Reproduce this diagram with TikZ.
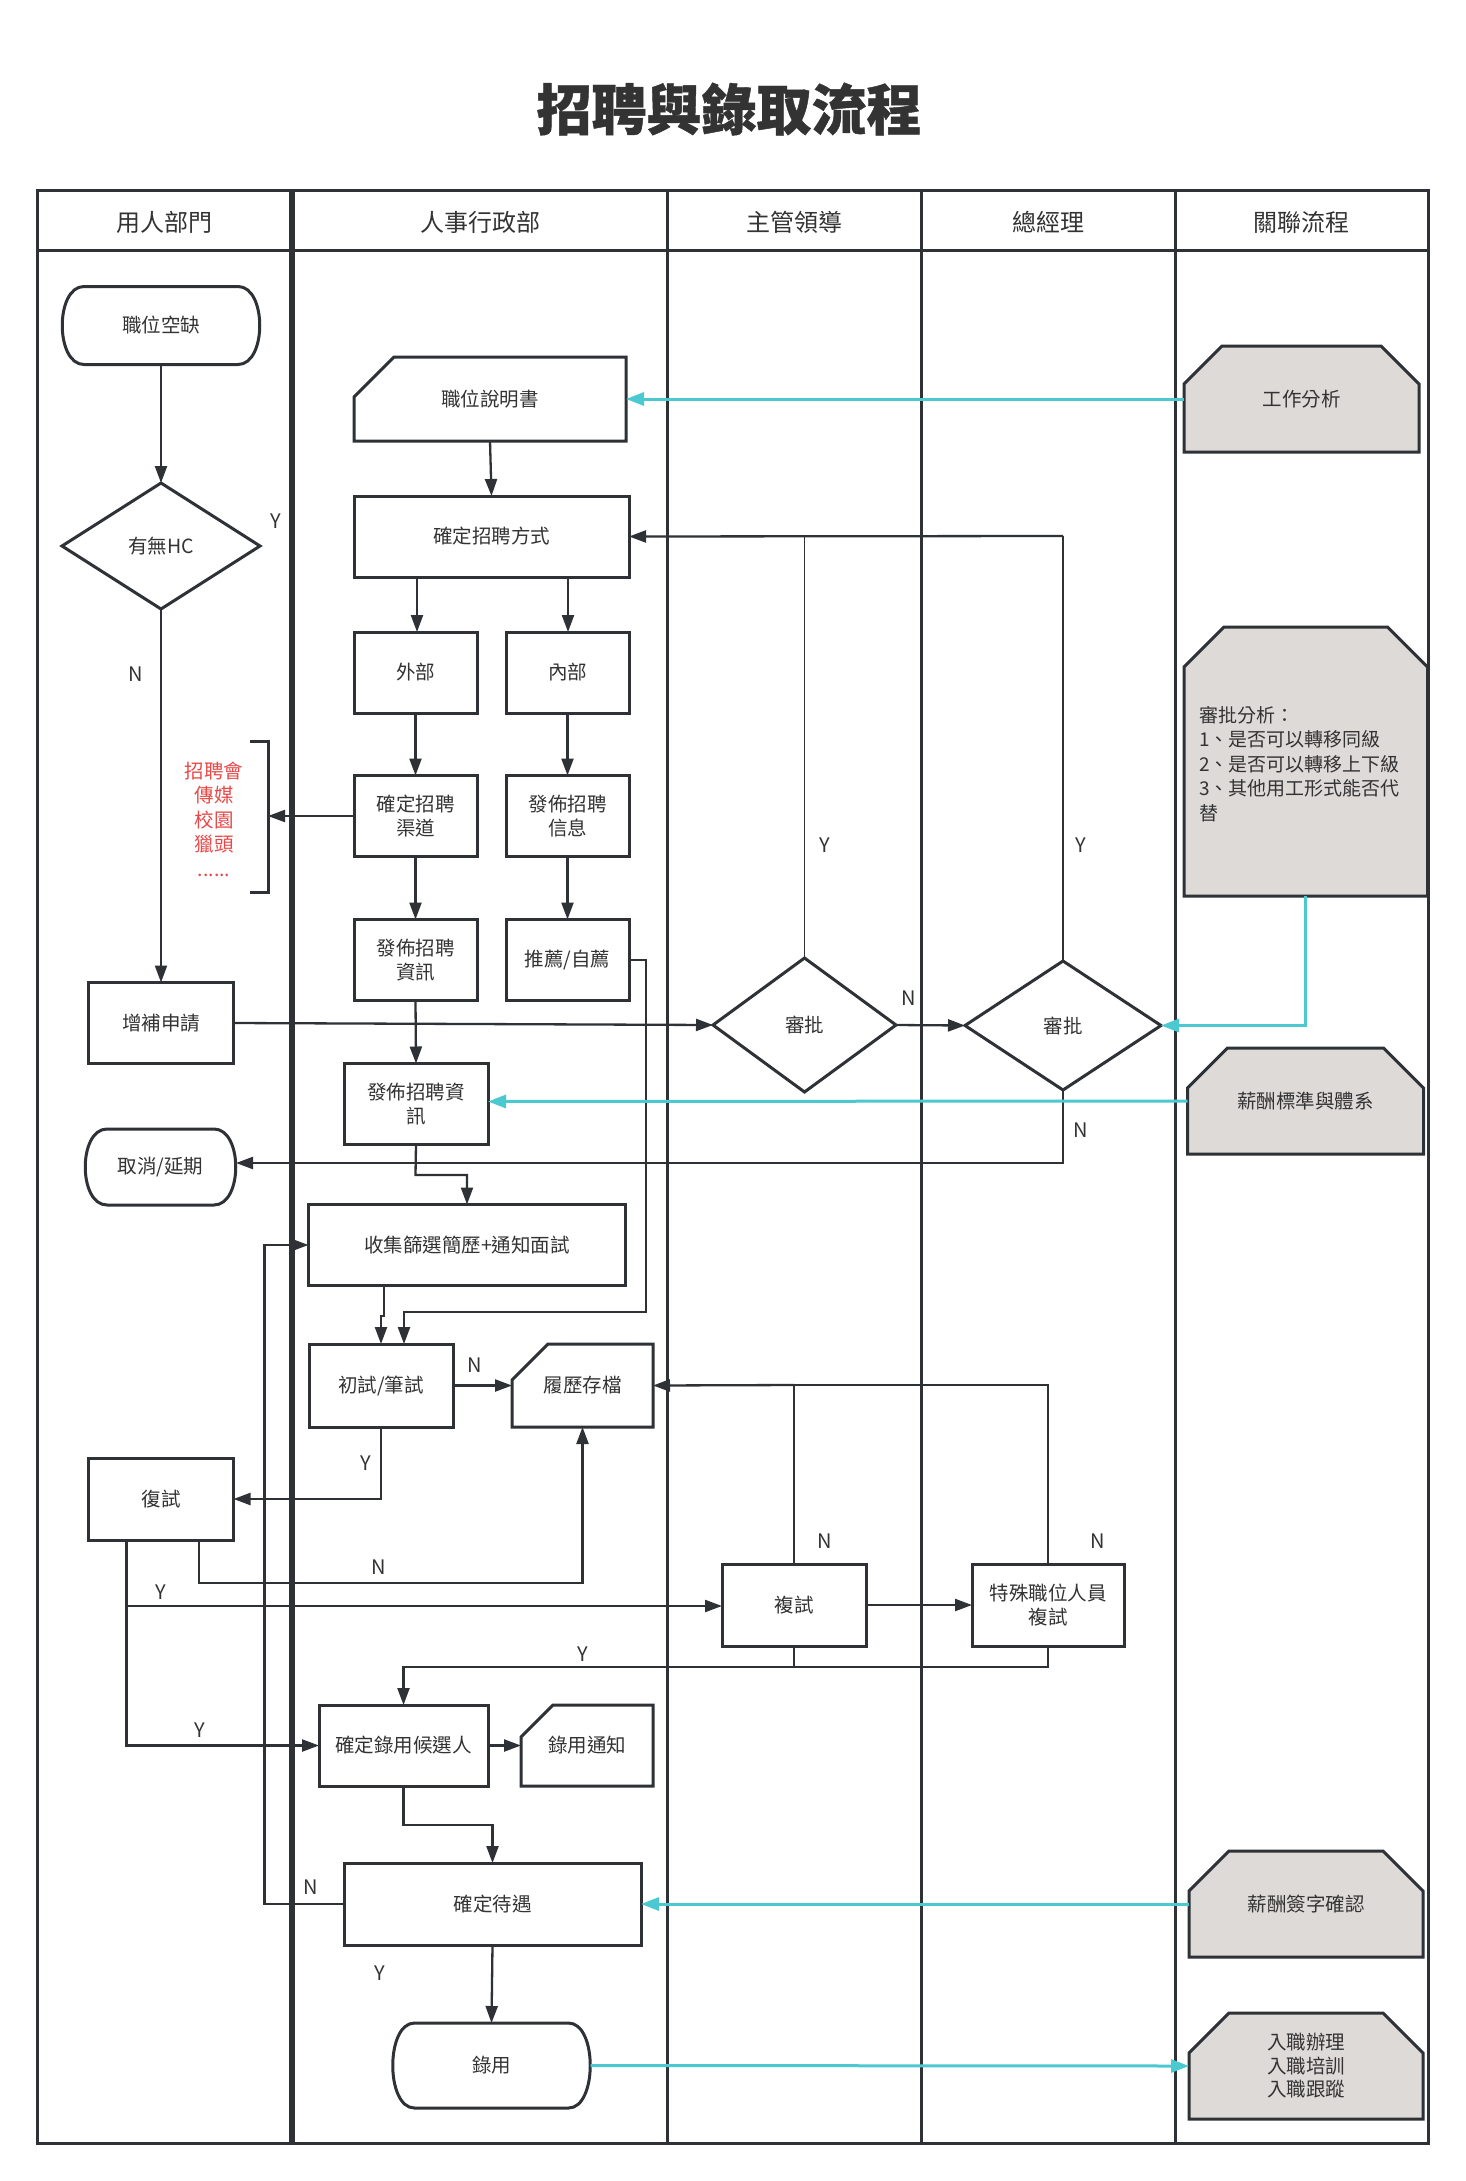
\documentclass[tikz,border=0pt]{standalone}
\usepackage{fontspec}
\setmainfont{Noto Sans CJK TC}
\usetikzlibrary{arrows.meta,calc}
\definecolor{ln}{HTML}{2E3236}
\definecolor{tx}{HTML}{333333}
\definecolor{cy}{HTML}{4CC9D0}
\definecolor{gf}{HTML}{DEDAD8}
\definecolor{rd}{HTML}{E84848}
\tikzset{
 boxline/.style={draw=ln, line width=3pt, line join=miter},
 txt/.style={inner sep=1pt, outer sep=0pt, align=center, text=tx, font=\fontsize{19.5}{23.5}\selectfont},
 pbox/.style={txt, draw=ln, line width=3pt, fill=white},
 conn/.style={draw=ln, line width=2.3pt, -{Triangle[length=17pt,width=12pt]}},
 plain/.style={draw=ln, line width=2.3pt},
 thinl/.style={draw=ln, line width=1.8pt},
 cyconn/.style={draw=cy, line width=3pt, -{Triangle[length=18pt,width=13pt]}},
 cyline/.style={draw=cy, line width=3pt},
 lbl/.style={text=tx, font=\fontsize{20}{24}\selectfont, inner sep=0pt},
 hdr/.style={text=tx, font=\fontsize{24}{28}\selectfont, inner sep=0pt},
 tbl/.style={draw=ln, line width=3pt},
}
% rectangle box: name cx cy w h text
\newcommand{\rbox}[6]{\node[pbox, minimum width=#4pt, minimum height=#5pt] (#1) at (#2,#3) {#6};}
% terminal: name cx cy w h text
\newcommand{\termshape}[6]{%
 \pgfmathsetmacro\tXa{#2-#4/2}\pgfmathsetmacro\tXb{#2+#4/2}%
 \pgfmathsetmacro\tYa{#3-#5/2}\pgfmathsetmacro\tYb{#3+#5/2}%
 \draw[boxline, fill=white] (\tXa+22,\tYa) -- (\tXb-22,\tYa) .. controls (\tXb+7,\tYa) and (\tXb+7,\tYb) .. (\tXb-22,\tYb) -- (\tXa+22,\tYb) .. controls (\tXa-7,\tYb) and (\tXa-7,\tYa) .. (\tXa+22,\tYa) -- cycle;
 \node[txt, minimum width=#4pt, minimum height=#5pt] (#1) at (#2,#3) {#6};}
% card (cut top-left): name cx cy w h cut text
\newcommand{\cardshape}[7]{%
 \pgfmathsetmacro\tXa{#2-#4/2}\pgfmathsetmacro\tXb{#2+#4/2}%
 \pgfmathsetmacro\tYa{#3-#5/2}\pgfmathsetmacro\tYb{#3+#5/2}%
 \draw[boxline, fill=white] (\tXa,\tYa+#6) -- (\tXa+#6,\tYa) -- (\tXb,\tYa) -- (\tXb,\tYb) -- (\tXa,\tYb) -- cycle;
 \node[txt, minimum width=#4pt, minimum height=#5pt] (#1) at (#2,#3) {#7};}
% gray box (both top corners cut): name cx cy w h cut text
\newcommand{\grayshape}[7]{%
 \pgfmathsetmacro\tXa{#2-#4/2}\pgfmathsetmacro\tXb{#2+#4/2}%
 \pgfmathsetmacro\tYa{#3-#5/2}\pgfmathsetmacro\tYb{#3+#5/2}%
 \draw[boxline, fill=gf] (\tXa,\tYa+#6) -- (\tXa+#6,\tYa) -- (\tXb-#6,\tYa) -- (\tXb,\tYa+#6) -- (\tXb,\tYb) -- (\tXa,\tYb) -- cycle;
 \node[txt, minimum width=#4pt, minimum height=#5pt] (#1) at (#2,#3) {#7};}
% diamond: name cx cy w h text
\newcommand{\diamshape}[6]{%
 \draw[boxline, fill=white] (#2,#3-#5/2) -- (#2+#4/2,#3) -- (#2,#3+#5/2) -- (#2-#4/2,#3) -- cycle;
 \node[txt, minimum width=#4pt, minimum height=#5pt] (#1) at (#2,#3) {#6};}
\begin{document}
\begin{tikzpicture}[x=1pt,y=-1pt]
\useasboundingbox[fill=white] (0,0) rectangle (1465,2181);
% title
\node[text=tx, font=\fontsize{55}{60}\selectfont\bfseries\addfontfeature{FakeBold=0.8}, inner sep=0pt] (title) at (729,109) {招聘與錄取流程};
% table
\draw[tbl] (37.5,190) rectangle (1428,2143);
\draw[tbl] (37.5,250) -- (1428,250);
\draw[draw=ln, line width=5.5pt] (292,190) -- (292,2143);
\draw[tbl] (667.5,190) -- (667.5,2143);
\draw[tbl] (921,190) -- (921,2143);
\draw[tbl] (1175,190) -- (1175,2143);
\node[hdr] (h1) at (164.5,222) {用人部門};
\node[hdr] (h2) at (480,222) {人事行政部};
\node[hdr] (h3) at (794,222) {主管領導};
\node[hdr] (h4) at (1048,222) {總經理};
\node[hdr] (h5) at (1301,222) {關聯流程};
% nodes
\termshape{t1}{161}{325.5}{198}{78}{職位空缺}
\diamshape{hc}{161}{546}{198}{126}{有無HC}
\cardshape{jd}{490}{399}{272}{84}{40}{職位說明書}
\rbox{fs}{491.5}{536.5}{275}{81}{確定招聘方式}
\rbox{ext}{415.5}{672.5}{123}{81}{外部}
\rbox{int}{567.5}{672.5}{123}{81}{內部}
\rbox{ch}{415.5}{816}{123}{81}{確定招聘\\渠道}
\rbox{pi}{567.5}{816}{123}{81}{發佈招聘\\信息}
\rbox{pr}{415.5}{960}{123}{81}{發佈招聘\\資訊}
\rbox{rec}{567.5}{960}{123}{81}{推薦/自薦}
\rbox{add}{161}{1023}{145}{81}{增補申請}
\rbox{pr2}{416}{1104}{144}{81}{發佈招聘資\\訊}
\termshape{cancel}{160.5}{1167}{151}{76}{取消/延期}
\rbox{collect}{467}{1245}{317}{81}{收集篩選簡歷+通知面試}
\rbox{first}{381}{1385.5}{144}{83}{初試/筆試}
\cardshape{arch}{582.5}{1385.5}{141}{83}{36}{履歷存檔}
\rbox{reA}{161}{1499}{145}{82}{復試}
\rbox{reB}{794}{1605}{144}{82}{複試}
\rbox{sp}{1048}{1605}{152}{82}{特殊職位人員\\複試}
\rbox{cand}{403.5}{1745.5}{169}{81}{確定錄用候選人}
\cardshape{note}{587}{1745.5}{132}{81}{32}{錄用通知}
\rbox{treat}{492.5}{1904}{297}{82}{確定待遇}
\termshape{hire}{491.5}{2065.5}{198}{85}{錄用}
\diamshape{apA}{804.5}{1025}{183}{134}{審批}
\diamshape{apB}{1063}{1025.5}{196}{129}{審批}
% gray related-process boxes
\grayshape{g1}{1301.5}{399}{235}{106}{38}{工作分析}
\grayshape{g2}{1305.75}{761.5}{243.5}{269}{40}{}
\node[txt, anchor=north west, align=left, font=\fontsize{19}{24.6}\selectfont] (g2t) at (1198,705) {審批分析：\\1、是否可以轉移同級\\2、是否可以轉移上下級\\3、其他用工形式能否代\\替};
\grayshape{g3}{1305.5}{1101}{236}{106}{40}{薪酬標準與體系}
\grayshape{g4}{1306}{1904}{234}{106}{40}{薪酬簽字確認}
\grayshape{g5}{1306}{2066}{234}{106}{40}{入職辦理\\入職培訓\\入職跟蹤}
% bracket and red list
\draw[boxline] (250,741) -- (268,741) -- (268,892) -- (250,892);
\coordinate (brk) at (268,816);
\node[txt, text=rd, font=\fontsize{19.5}{24.5}\selectfont] (chan) at (214,819) {招聘會\\傳媒\\校園\\獵頭\\......};
% connectors
\draw[conn] (t1.south) -- (hc.north);
\draw[conn] (hc.south) -- (add.north);
\node[lbl] (lN1) at (136,674) {N};
\node[lbl] (lY1) at (276,521) {Y};
\draw[conn] (jd.south) -- (fs.north);
\draw[conn] (417,0 |- fs.south) -- (417,0 |- ext.north);
\draw[conn] (568,0 |- fs.south) -- (568,0 |- int.north);
\draw[conn] (ext.south) -- (ch.north);
\draw[conn] (int.south) -- (pi.north);
\draw[conn] (ch.south) -- (pr.north);
\draw[conn] (pi.south) -- (rec.north);
\draw[conn] (ch.west) -- (brk);
\draw[conn] (rec.east) -- (646,960) -- (646,1312) -- (404,1312) -- (404,0 |- first.north);
\draw[conn] (pr.south) -- (pr2.north);
\draw[conn] (add.east) -- (apA.west);
\draw[conn] (apA.east) -- (apB.west);
\node[lbl] (lN2) at (909,998) {N};
\draw[thinl] (apA.north) -- (804.5,536);
\draw[thinl] (apB.north) -- (1063,536);
\draw[conn] (1063,536) -- (fs.east);
\node[lbl] (lY2) at (824.5,845) {Y};
\node[lbl] (lY3) at (1081,845) {Y};
\draw[conn] (apB.south) -- (1063,1163) -- (cancel.east |- 0,1163);
\node[lbl] (lN3) at (1081,1130) {N};
\draw[conn] (pr2.south) -- (415.5,1175) -- (467,1175) -- (collect.north);
\draw[conn] (384,0 |- collect.south) -- (384,1316) -- (381,1316) -- (first.north);
\draw[conn] (first.east) -- (arch.west);
\node[lbl] (lN4) at (475,1365) {N};
\draw[conn] (first.south) -- (381,1499) -- (reA.east);
\node[lbl] (lY4) at (365.5,1463) {Y};
\draw[conn] (199,0 |- reA.south) -- (199,1583) -- (582.5,1583) -- (arch.south);
\node[lbl] (lN5) at (379,1567) {N};
\draw[conn] (126.5,0 |- reA.south) -- (126.5,1606) -- (reB.west |- 0,1606);
\node[lbl] (lY5) at (160.6,1592) {Y};
\draw[conn] (126.5,1606) -- (126.5,1745.5) -- (cand.west);
\node[lbl] (lY6) at (200,1730) {Y};
\draw[thinl] (reB.north) -- (794,1385);
\draw[plain] (sp.north) -- (1048,1385) -- (794,1385);
\draw[conn] (794,1385) -- (arch.east);
\node[lbl] (lN6) at (824.5,1541) {N};
\node[lbl] (lN7) at (1097.6,1541) {N};
\draw[conn] (reB.east) -- (sp.west);
\draw[plain] (reB.south) -- (794,1667);
\draw[conn] (sp.south) -- (1048,1667) -- (403.5,1667) -- (cand.north);
\node[lbl] (lY7) at (583,1654) {Y};
\draw[conn] (cand.east) -- (note.west);
\draw[conn] (cand.south) -- (403.5,1825) -- (492.5,1825) -- (treat.north);
\draw[conn] (treat.west) -- (264.5,1904) -- (264.5,1245) -- (collect.west);
\node[lbl] (lN8) at (311,1887) {N};
\draw[conn] (treat.south) -- (hire.north);
\node[lbl] (lY8) at (380,1973) {Y};
% cyan connectors
\draw[cyconn] (g1.west) -- (jd.east);
\draw[cyconn] (g2.south) -- (1305.75,1025.5) -- (apB.east);
\draw[cyconn] (g3.west) -- (pr2.east |- 0,1101.5);
\draw[cyconn] (g4.west) -- (treat.east);
\draw[cyconn] (hire.east) -- (g5.west);
\end{tikzpicture}
\end{document}
